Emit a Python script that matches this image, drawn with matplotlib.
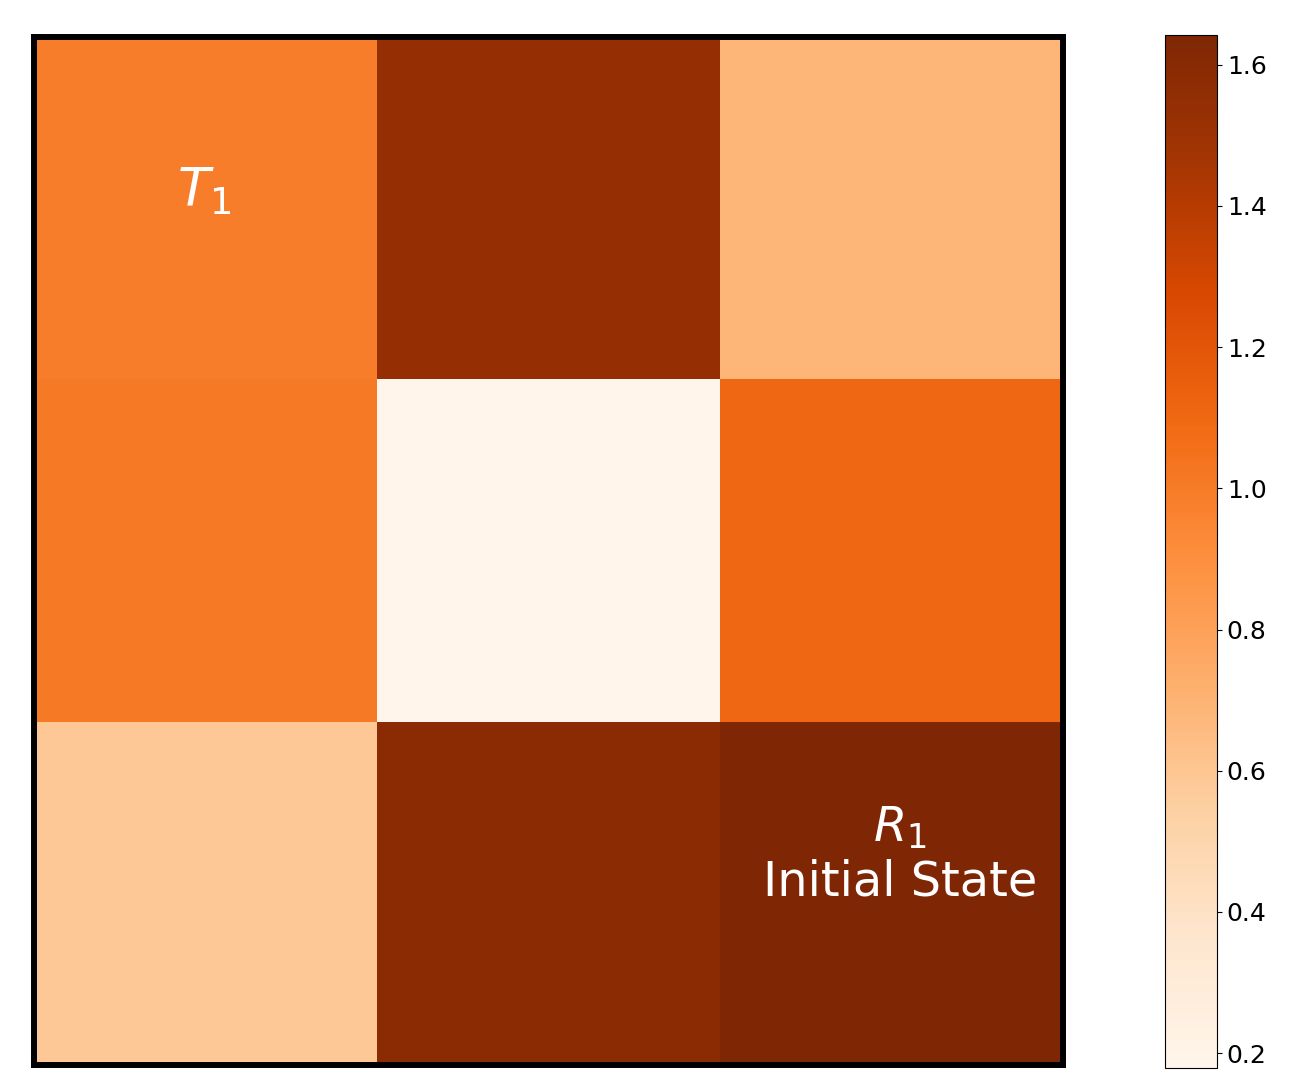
import numpy as np
import matplotlib
matplotlib.use("Agg")
import matplotlib.pyplot as plt

# cell values (rows top to bottom)
row_top = [0.99, 1.534, 0.685]
row_mid = [1.01, 0.179, 1.10]
row_bot = [0.59, 1.58, 1.642]
values = np.array([row_top, row_mid, row_bot])

cbar_ticks = [0.2, 0.4, 0.6, 0.8, 1.0, 1.2, 1.4, 1.6]

fig = plt.figure(figsize=(13.16, 10.77), dpi=100)
ax = fig.add_axes([0.0262, 0.01114, 0.7812, 0.9545])
cax = fig.add_axes([0.8853, 0.00836, 0.0395, 0.9591])

im = ax.imshow(values, cmap="Oranges", aspect="auto")
ax.set_xticks([])
ax.set_yticks([])
for s in ax.spines.values():
    s.set_linewidth(4.3)

ax.text(-0.005, -0.05, "$T_1$", color="white", fontsize=38, ha="center", va="center")
ax.text(2.025, 1.886, "$R_1$\nInitial State", color="white", fontsize=34.5,
        ha="center", va="center")

cb = fig.colorbar(im, cax=cax)
cb.set_ticks(cbar_ticks)
cb.ax.tick_params(labelsize=18)

fig.savefig("out.png", dpi=100)
